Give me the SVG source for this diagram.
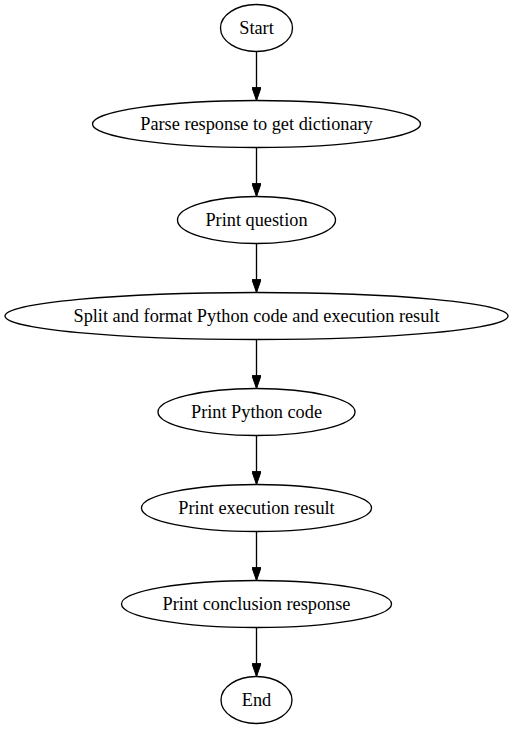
<svg xmlns="http://www.w3.org/2000/svg" width="513" height="731" viewBox="0 0 513 731">
<style>
.n ellipse{fill:#fff;stroke:#000;stroke-width:1.33}
.n text{font-family:"Liberation Serif","Times New Roman",serif;font-size:18.3px;text-anchor:middle;fill:#000}
.e line{stroke:#000;stroke-width:1.33}
</style>
<defs>
<marker id="ah" markerUnits="userSpaceOnUse" viewBox="0 0 13.3 9.4" refX="13.3" refY="4.7" markerWidth="13.3" markerHeight="9.4" orient="auto">
<path d="M0,0 L13.3,4.7 L0,9.4 Z" fill="#000" stroke="#000" stroke-width="1"/>
</marker>
</defs>
<rect width="513" height="731" fill="#fff"/>
<g id="edges" class="e">
<line x1="256.5" y1="51.5" x2="256.5" y2="100.5" marker-end="url(#ah)"/>
<line x1="256.5" y1="147.5" x2="256.5" y2="196.5" marker-end="url(#ah)"/>
<line x1="256.5" y1="243.5" x2="256.5" y2="292.5" marker-end="url(#ah)"/>
<line x1="256.5" y1="339.5" x2="256.5" y2="388.5" marker-end="url(#ah)"/>
<line x1="256.5" y1="435.5" x2="256.5" y2="484.5" marker-end="url(#ah)"/>
<line x1="256.5" y1="531.5" x2="256.5" y2="580.5" marker-end="url(#ah)"/>
<line x1="256.5" y1="627.5" x2="256.5" y2="676.5" marker-end="url(#ah)"/>
</g>
<g id="start" class="n"><ellipse cx="256.5" cy="28" rx="36" ry="23.5"/><text x="256.5" y="33.5">Start</text></g>
<g id="parse" class="n"><ellipse cx="256.5" cy="124" rx="164" ry="23.5"/><text x="256.5" y="129.5">Parse response to get dictionary</text></g>
<g id="question" class="n"><ellipse cx="256.5" cy="220" rx="79" ry="23.5"/><text x="256.5" y="225.5">Print question</text></g>
<g id="split" class="n"><ellipse cx="256.5" cy="316" rx="251.5" ry="23.5"/><text x="256.5" y="321.5">Split and format Python code and execution result</text></g>
<g id="code" class="n"><ellipse cx="256.5" cy="412" rx="98.5" ry="23.5"/><text x="256.5" y="417.5">Print Python code</text></g>
<g id="result" class="n"><ellipse cx="256.5" cy="508" rx="115" ry="23.5"/><text x="256.5" y="513.5">Print execution result</text></g>
<g id="conclusion" class="n"><ellipse cx="256.5" cy="604" rx="135" ry="23.5"/><text x="256.5" y="609.5">Print conclusion response</text></g>
<g id="end" class="n"><ellipse cx="256.5" cy="700" rx="35.5" ry="23.5"/><text x="256.5" y="705.5">End</text></g>
</svg>
